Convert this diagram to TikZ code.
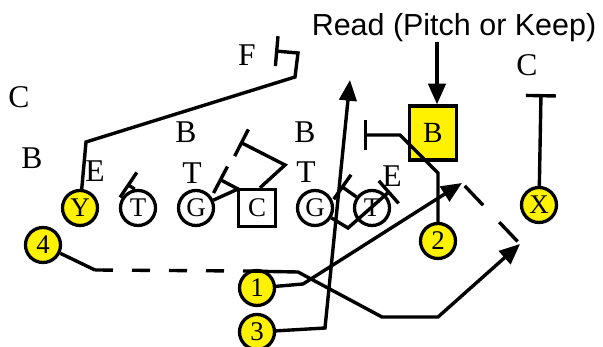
\documentclass[tikz,border=0pt]{standalone}
\usepackage{fontspec}
\setmainfont{Liberation Serif}
\newfontfamily\readfont{Liberation Sans}
\usetikzlibrary{arrows.meta}

\begin{document}
\begin{tikzpicture}[x=0.03cm, y=-0.03cm,
    ol/.style={circle, draw, line width=2.8pt, minimum size=1.05cm, inner sep=0pt,
               font=\fontsize{23}{26}\selectfont},
    bk/.style={ol, fill=yellow},
    snap/.style={rectangle, draw, line width=2.8pt, minimum size=1.11cm, inner sep=0pt,
                 font=\fontsize{23}{26}\selectfont},
    readbox/.style={rectangle, draw, fill=yellow, line width=2.8pt, minimum width=1.41cm,
                    minimum height=1.62cm, inner sep=0pt, font=\fontsize{25}{28}\selectfont},
    lbl/.style={font=\fontsize{27}{30}\selectfont, inner sep=0pt},
    route/.style={line width=2.9pt},
    blk/.style={route, -{Bar[width=0.9cm]}},
    run/.style={route, -{Triangle[length=0.62cm, width=0.52cm]}},
    opt/.style={route, dash pattern=on 0.8cm off 0.7cm}
]
\useasboundingbox (0,0) rectangle (603,347);
% offense
\node[bk] (y) at (80,208) {Y};
\node[ol] (lt) at (138,208) {T};
\node[ol] (lg) at (196,208) {G};
\node[snap] (c) at (257,208) {C};
\node[ol] (rg) at (315,208) {G};
\node[ol] (rt) at (372,208) {T};
\node[bk] (x) at (539,205) {X};
\node[bk] (p4) at (43,245) {4};
\node[bk] (p1) at (257,288) {1};
\node[bk] (p2) at (438,241) {2};
\node[bk] (p3) at (257,332) {3};
% defense
\node[readbox] (rb) at (433,133) {B};
\node[lbl] (fs) at (247,55) {F};
\node[lbl] (cl) at (19,97) {C};
\node[lbl] (bl) at (32,158) {B};
\node[lbl] (el) at (95,171) {E};
\node[lbl] (bm) at (186,132) {B};
\node[lbl] (tl) at (192,173) {T};
\node[lbl] (br) at (305,132) {B};
\node[lbl] (tr) at (306,172) {T};
\node[lbl] (er) at (392,176) {E};
\node[lbl] (cr) at (527,65) {C};
\node[font=\readfont\fontsize{26}{30}\selectfont, inner sep=0pt] (read) at (454,28) {Read (Pitch or Keep)};
\draw[run] ([xshift=0.12cm]read.south -| rb.north) -- ([xshift=0.12cm]rb.north);
% blocks
\draw[blk] (y) -- (86,142) -- (295,77) -- (298,53) -- (275,51);
\draw[blk] (lt.100) -- (127,184);
\draw[blk] (lg) -- (238,189) -- (219,179);
\draw[blk] ([xshift=0.09cm]c.north) -- (285,165) -- (240,142);
\draw[blk] (rg) -- (348,228) -- (390,191);
\draw[blk] (rt) -- (341,186);
\draw[blk] (p2) -- (438,173) -- (400,135) -- (364,135);
\draw[blk] (x) -- (541,94);
% backfield
\coordinate (tip1) at (462,183);
\coordinate (tip4) at (520,244);
\draw[run] (p3) -- (325,328) -- (350,80);
\draw[run] (p1) -- (303,284) -- (tip1);
\draw[route] (p4) -- (95,270);
\draw[route, dash pattern=on 0.54cm off 0.57cm] (95,270) -- (243,271);
\draw[run] (243,271) -- (298,272) -- (382,317) -- (438,317) -- (tip4);
\draw[opt, shorten <=0.12cm] (tip1) -- (tip4);
\end{tikzpicture}
\end{document}
